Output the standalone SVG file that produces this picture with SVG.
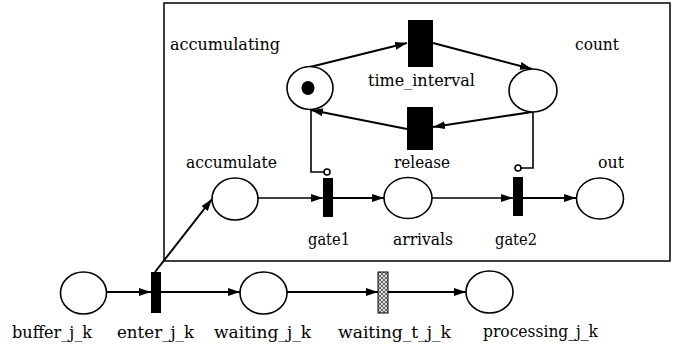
<svg xmlns="http://www.w3.org/2000/svg" width="686" height="346" viewBox="0 0 686 346">
<style>
.pl{fill:#fff;stroke:#000;stroke-width:1.6}
.tr{fill:#000}
.arc{fill:none;stroke:#000;stroke-width:2}
.in{fill:none;stroke:#000;stroke-width:1.6}
.inh{fill:#fff;stroke:#000;stroke-width:1.6}
</style>
<defs>
<marker id="ah" markerUnits="userSpaceOnUse" markerWidth="13" markerHeight="9" refX="12" refY="4" orient="auto">
<path d="M0,0 L12,4 L0,8 z" fill="#000"/>
</marker>
<pattern id="hatch" patternUnits="userSpaceOnUse" width="4" height="4">
<rect width="4" height="4" fill="#ddd"/>
<path d="M0,0 L4,4 M4,0 L0,4" stroke="#333" stroke-width="0.7"/>
</pattern>
</defs>
<rect x="164" y="3" width="506" height="258" fill="none" stroke="#000" stroke-width="1.5"/>
<g id="connectors">
<line class="arc" x1="310" y1="67" x2="407" y2="43" marker-end="url(#ah)"/>
<line class="arc" x1="433" y1="43" x2="532" y2="69" marker-end="url(#ah)"/>
<line class="arc" x1="532" y1="112" x2="433" y2="127" marker-end="url(#ah)"/>
<line class="arc" x1="407" y1="129" x2="311" y2="110" marker-end="url(#ah)"/>
<polyline class="in" points="311,110 311,172 324,172"/>
<circle class="inh" cx="327" cy="172" r="3"/>
<polyline class="in" points="533,112 533,168 521,168"/>
<circle class="inh" cx="518" cy="168" r="3"/>
<line class="in" x1="258" y1="198" x2="323" y2="198" marker-end="url(#ah)"/>
<line class="arc" x1="333" y1="198" x2="384" y2="198" marker-end="url(#ah)"/>
<line class="in" x1="432" y1="198" x2="513" y2="198" marker-end="url(#ah)"/>
<line class="arc" x1="523" y1="198" x2="576" y2="198" marker-end="url(#ah)"/>
<line class="arc" x1="155" y1="272" x2="212" y2="199" marker-end="url(#ah)"/>
<line class="arc" x1="107" y1="292" x2="151" y2="292" marker-end="url(#ah)"/>
<line class="arc" x1="161" y1="292" x2="240" y2="292" marker-end="url(#ah)"/>
<line class="arc" x1="287" y1="292" x2="378" y2="292" marker-end="url(#ah)"/>
<line class="arc" x1="388" y1="292" x2="466" y2="292" marker-end="url(#ah)"/>
</g>
<g font-family="'DejaVu Serif', 'Liberation Serif', serif" font-size="17" fill="#000">
<g id="accumulating">
<ellipse class="pl" cx="310" cy="88" rx="23" ry="21.5"/>
<ellipse cx="308" cy="88" rx="6.5" ry="7" fill="#000"/>
<text x="170" y="50" textLength="110" lengthAdjust="spacingAndGlyphs">accumulating</text>
</g>
<g id="count">
<ellipse class="pl" cx="533" cy="90.5" rx="24" ry="21.5"/>
<text x="575" y="50" textLength="44" lengthAdjust="spacingAndGlyphs">count</text>
</g>
<g id="time_interval">
<rect class="tr" x="408" y="20" width="25" height="47"/>
<text x="368" y="86" textLength="107" lengthAdjust="spacingAndGlyphs">time_interval</text>
</g>
<g id="release">
<rect class="tr" x="407" y="107" width="26" height="43"/>
<text x="394" y="168" textLength="56" lengthAdjust="spacingAndGlyphs">release</text>
</g>
<g id="accumulate">
<ellipse class="pl" cx="235" cy="199" rx="23" ry="21"/>
<text x="186" y="168" textLength="91" lengthAdjust="spacingAndGlyphs">accumulate</text>
</g>
<g id="gate1">
<rect class="tr" x="323" y="178" width="10" height="39"/>
<text x="308" y="245" textLength="42" lengthAdjust="spacingAndGlyphs">gate1</text>
</g>
<g id="arrivals">
<ellipse class="pl" cx="408" cy="198" rx="24" ry="20.5"/>
<text x="393" y="245" textLength="60" lengthAdjust="spacingAndGlyphs">arrivals</text>
</g>
<g id="gate2">
<rect class="tr" x="513" y="177" width="10" height="39"/>
<text x="495" y="245" textLength="42" lengthAdjust="spacingAndGlyphs">gate2</text>
</g>
<g id="out">
<ellipse class="pl" cx="600" cy="198.5" rx="23.5" ry="20.5"/>
<text x="598" y="168" textLength="26" lengthAdjust="spacingAndGlyphs">out</text>
</g>
<g id="buffer_j_k">
<ellipse class="pl" cx="83.5" cy="293" rx="23" ry="21"/>
<text x="12" y="338" textLength="80" lengthAdjust="spacingAndGlyphs">buffer_j_k</text>
</g>
<g id="enter_j_k">
<rect class="tr" x="151" y="272" width="10" height="41"/>
<text x="117" y="338" textLength="77" lengthAdjust="spacingAndGlyphs">enter_j_k</text>
</g>
<g id="waiting_j_k">
<ellipse class="pl" cx="263.5" cy="293" rx="23.5" ry="21"/>
<text x="214" y="338" textLength="97" lengthAdjust="spacingAndGlyphs">waiting_j_k</text>
</g>
<g id="waiting_t_j_k">
<rect x="378" y="272" width="10" height="41" fill="url(#hatch)" stroke="#000" stroke-width="1"/>
<text x="338" y="338" textLength="113" lengthAdjust="spacingAndGlyphs">waiting_t_j_k</text>
</g>
<g id="processing_j_k">
<ellipse class="pl" cx="489.5" cy="292" rx="23.5" ry="21"/>
<text x="483" y="337" textLength="115" lengthAdjust="spacingAndGlyphs">processing_j_k</text>
</g>
</g>
</svg>
